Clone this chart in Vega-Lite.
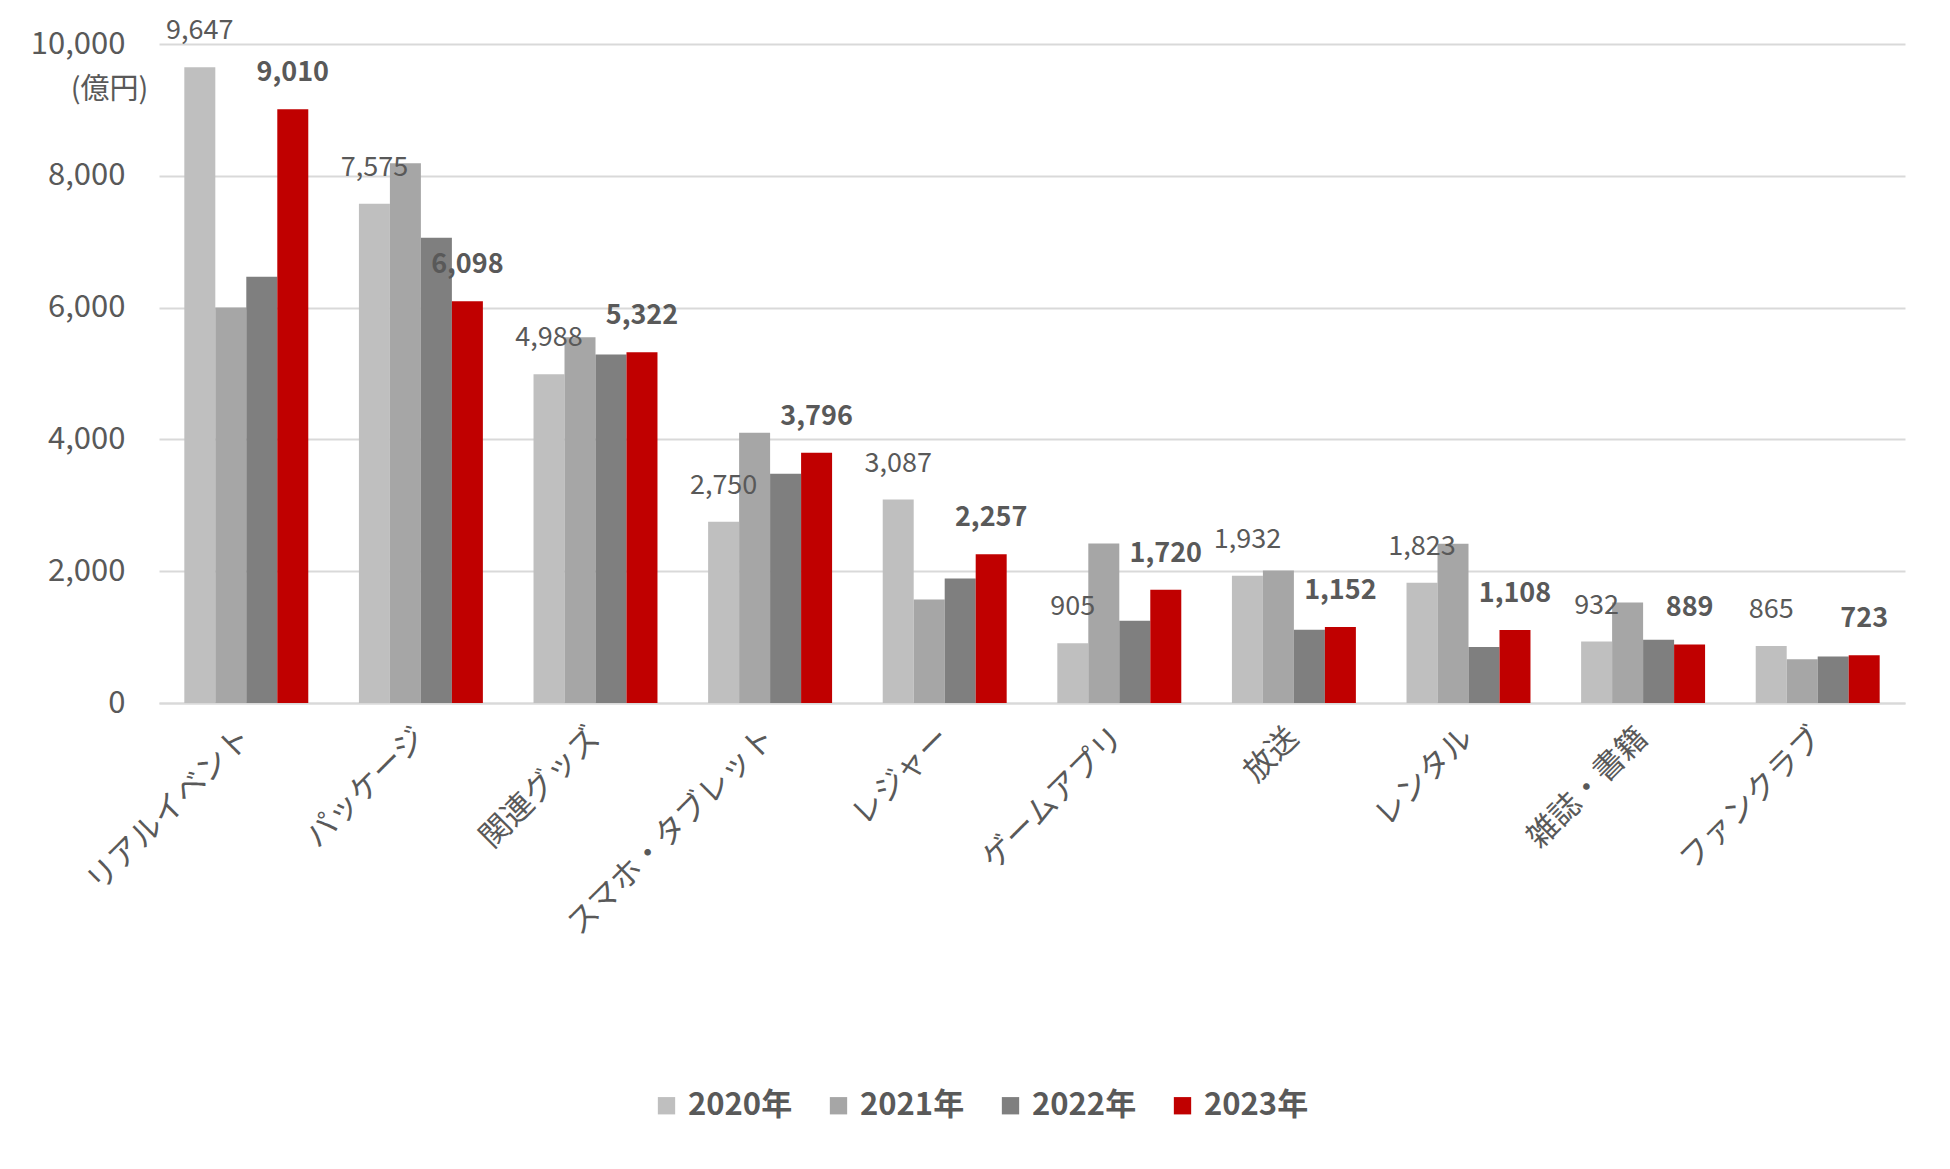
{
  "$schema": "https://vega.github.io/schema/vega-lite/v6.json",
  "width": 1746,
  "height": 659,
  "autosize": {"type": "none"},
  "padding": {"left": 159, "top": 44, "right": 45, "bottom": 466},
  "background": "white",
  "config": {
    "font": "Noto Sans CJK JP",
    "view": {"stroke": null}
  },
  "data": {
    "values": [
      {"category": "リアルイベント", "year": "2020年", "value": 9647},
      {"category": "リアルイベント", "year": "2021年", "value": 6000},
      {"category": "リアルイベント", "year": "2022年", "value": 6470},
      {"category": "リアルイベント", "year": "2023年", "value": 9010},
      {"category": "パッケージ", "year": "2020年", "value": 7575},
      {"category": "パッケージ", "year": "2021年", "value": 8190},
      {"category": "パッケージ", "year": "2022年", "value": 7060},
      {"category": "パッケージ", "year": "2023年", "value": 6098},
      {"category": "関連グッズ", "year": "2020年", "value": 4988},
      {"category": "関連グッズ", "year": "2021年", "value": 5550},
      {"category": "関連グッズ", "year": "2022年", "value": 5290},
      {"category": "関連グッズ", "year": "2023年", "value": 5322},
      {"category": "スマホ・タブレット", "year": "2020年", "value": 2750},
      {"category": "スマホ・タブレット", "year": "2021年", "value": 4100},
      {"category": "スマホ・タブレット", "year": "2022年", "value": 3480},
      {"category": "スマホ・タブレット", "year": "2023年", "value": 3796},
      {"category": "レジャー", "year": "2020年", "value": 3087},
      {"category": "レジャー", "year": "2021年", "value": 1570},
      {"category": "レジャー", "year": "2022年", "value": 1890},
      {"category": "レジャー", "year": "2023年", "value": 2257},
      {"category": "ゲームアプリ", "year": "2020年", "value": 905},
      {"category": "ゲームアプリ", "year": "2021年", "value": 2420},
      {"category": "ゲームアプリ", "year": "2022年", "value": 1250},
      {"category": "ゲームアプリ", "year": "2023年", "value": 1720},
      {"category": "放送", "year": "2020年", "value": 1932},
      {"category": "放送", "year": "2021年", "value": 2010},
      {"category": "放送", "year": "2022年", "value": 1110},
      {"category": "放送", "year": "2023年", "value": 1152},
      {"category": "レンタル", "year": "2020年", "value": 1823},
      {"category": "レンタル", "year": "2021年", "value": 2418},
      {"category": "レンタル", "year": "2022年", "value": 850},
      {"category": "レンタル", "year": "2023年", "value": 1108},
      {"category": "雑誌・書籍", "year": "2020年", "value": 932},
      {"category": "雑誌・書籍", "year": "2021年", "value": 1525},
      {"category": "雑誌・書籍", "year": "2022年", "value": 958},
      {"category": "雑誌・書籍", "year": "2023年", "value": 889},
      {"category": "ファンクラブ", "year": "2020年", "value": 865},
      {"category": "ファンクラブ", "year": "2021年", "value": 665},
      {"category": "ファンクラブ", "year": "2022年", "value": 705},
      {"category": "ファンクラブ", "year": "2023年", "value": 723}
    ]
  },
  "encoding": {
    "x": {
      "field": "category",
      "type": "nominal",
      "sort": null,
      "scale": {"paddingInner": 0.29, "paddingOuter": 0.145},
      "axis": {
        "title": null,
        "labelAngle": -45,
        "labelAlign": "right",
        "labelBaseline": "middle",
        "labelPadding": 30,
        "labelFontSize": 31,
        "labelLimit": 400,
        "labelColor": "#595959",
        "ticks": false,
        "domainColor": "#d9d9d9",
        "domainWidth": 2
      }
    },
    "xOffset": {"field": "year", "type": "nominal", "scale": {"paddingInner": 0, "paddingOuter": 0}},
    "y": {
      "field": "value",
      "type": "quantitative",
      "scale": {"domain": [0, 10000], "nice": false},
      "axis": {
        "values": [0, 2000, 4000, 6000, 8000, 10000],
        "format": ",d",
        "title": "(億円)",
        "titleAngle": 0,
        "titleAlign": "center",
        "titleBaseline": "middle",
        "titleX": -50,
        "titleY": 45,
        "titleFontSize": 29,
        "titleFontWeight": "normal",
        "titleColor": "#595959",
        "labelFontSize": 31,
        "labelColor": "#595959",
        "labelPadding": 34,
        "ticks": false,
        "domain": false,
        "gridColor": "#d9d9d9",
        "gridWidth": 2
      }
    }
  },
  "layer": [
    {
      "mark": {"type": "bar"},
      "encoding": {
        "color": {
          "field": "year",
          "type": "nominal",
          "scale": {
            "domain": ["2020年", "2021年", "2022年", "2023年"],
            "range": ["#bfbfbf", "#a6a6a6", "#7f7f7f", "#c00000"]
          },
          "legend": {
            "title": null,
            "orient": "none",
            "direction": "horizontal",
            "legendX": 492,
            "legendY": 1046,
            "symbolType": "square",
            "symbolSize": 300,
            "symbolStrokeWidth": 0,
            "labelFontSize": 31,
            "labelFontWeight": "bold",
            "labelColor": "#595959",
            "labelOffset": 6,
            "columnPadding": 30
          }
        }
      }
    },
    {
      "transform": [{"filter": "datum.year == '2020年'"}],
      "mark": {"type": "text", "baseline": "middle", "dy": -36, "fontSize": 27, "color": "#595959"},
      "encoding": {
        "text": {"field": "value", "type": "quantitative", "format": ","}
      }
    },
    {
      "transform": [{"filter": "datum.year == '2023年'"}],
      "mark": {"type": "text", "baseline": "middle", "dy": -36, "fontSize": 27, "fontWeight": "bold", "color": "#595959"},
      "encoding": {
        "text": {"field": "value", "type": "quantitative", "format": ","}
      }
    }
  ]
}
